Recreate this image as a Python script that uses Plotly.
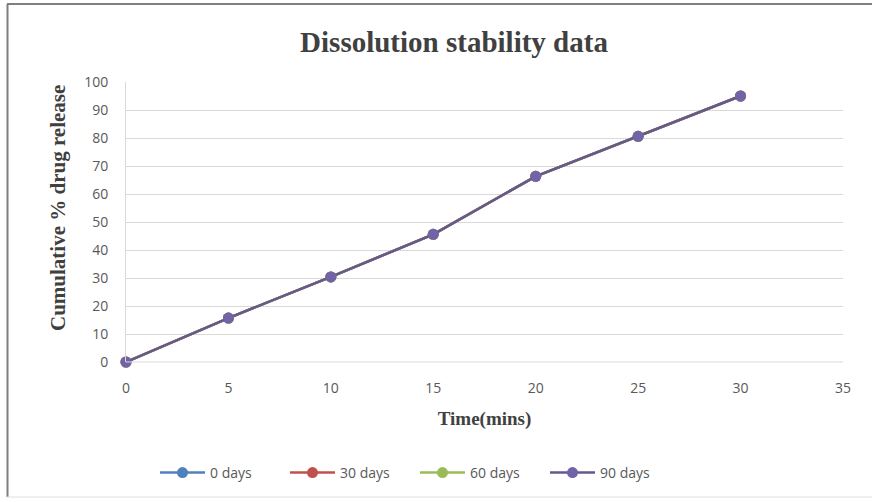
import plotly.graph_objects as go

# Dissolution profile sampled at each time point (minutes)
time_mins = [0, 5, 10, 15, 20, 25, 30]
release_0_days = [0, 15.7, 30.4, 45.6, 66.3, 80.6, 95.0]
release_30_days = [0, 15.7, 30.4, 45.6, 66.3, 80.6, 95.0]
release_60_days = [0, 15.7, 30.4, 45.6, 66.3, 80.6, 95.0]
release_90_days = [0, 15.7, 30.4, 45.6, 66.3, 80.6, 95.0]

series_names = ["0 days", "30 days", "60 days", "90 days"]
series_values = [release_0_days, release_30_days, release_60_days, release_90_days]
line_colors = ["#4F81BD", "#C0504D", "#9BBB59", "#66588C"]
marker_colors = ["#4F81BD", "#C0504D", "#9BBB59", "#7262A8"]

x_ticks = [0, 5, 10, 15, 20, 25, 30, 35]
y_ticks = [0, 10, 20, 30, 40, 50, 60, 70, 80, 90, 100]

W, H = 872, 502
ML, MR, MT, MB = 126, 29, 82, 140
PW, PH = W - ML - MR, H - MT - MB

fig = go.Figure()
for name, vals, lc, mc in zip(series_names, series_values, line_colors, marker_colors):
    fig.add_trace(go.Scatter(
        x=time_mins, y=vals, name=name, mode="lines+markers",
        line=dict(color=lc, width=2.5),
        marker=dict(color=mc, size=11, line=dict(width=0)),
        cliponaxis=False,
    ))

serif = "Liberation Serif, Times New Roman, serif"
sans = "Open Sans, Liberation Sans, sans-serif"


def px_x(px):
    return (px - ML) / PW


def px_y(py):
    return (H - MB - py) / PH


fig.update_layout(
    width=W, height=H,
    margin=dict(l=ML, r=MR, t=MT, b=MB),
    paper_bgcolor="white", plot_bgcolor="white",
    title=dict(
        text="<b>Dissolution stability data</b>",
        font=dict(family=serif, size=29, color="#404040"),
        x=454 / W, xanchor="center", y=1 - 42 / H, yanchor="middle",
    ),
    xaxis=dict(
        range=[0, 35], tickvals=x_ticks, ticktext=[str(t) for t in x_ticks],
        showgrid=False, zeroline=False, showline=False,
        tickfont=dict(family=sans, size=14, color="#595959"),
        ticks="", ticklabelstandoff=16,
        title=dict(text="<b>Time(mins)</b>", font=dict(family=serif, size=19, color="#404040"), standoff=15),
    ),
    yaxis=dict(
        range=[0, 100], tickvals=y_ticks,
        showgrid=True, gridcolor="#D9D9D9", gridwidth=1,
        zeroline=False, showline=True, linecolor="#D9D9D9", linewidth=1,
        tickfont=dict(family=sans, size=14, color="#595959"),
        ticks="", ticklabelstandoff=14,
    ),
    legend=dict(
        orientation="h", x=px_x(415), xanchor="center",
        y=px_y(473), yanchor="middle",
        font=dict(family=sans, size=14, color="#595959"),
        itemwidth=45, entrywidth=70, traceorder="normal",
    ),
    showlegend=True,
)

# vertical axis title
fig.add_annotation(
    text="<b>Cumulative % drug release</b>", textangle=-90,
    xref="paper", yref="paper", x=px_x(58), y=px_y(208),
    xanchor="center", yanchor="middle", showarrow=False,
    font=dict(family=serif, size=21, color="#404040"),
)

# baseline of the plot area and the outer chart frame
fig.add_shape(type="line", xref="paper", yref="paper", x0=0, x1=1, y0=0, y1=0,
              line=dict(color="#D9D9D9", width=1))
fig.add_shape(type="line", xref="paper", yref="paper",
              x0=px_x(7.5), x1=px_x(7.5), y0=px_y(4), y1=px_y(497),
              line=dict(color="#7F7F7F", width=2))
fig.add_shape(type="line", xref="paper", yref="paper",
              x0=px_x(7), x1=px_x(872), y0=px_y(4), y1=px_y(4),
              line=dict(color="#7F7F7F", width=2))
fig.add_shape(type="line", xref="paper", yref="paper",
              x0=px_x(7), x1=px_x(872), y0=px_y(497), y1=px_y(497),
              line=dict(color="#E0E0E0", width=1))

fig.write_html("out.html")
